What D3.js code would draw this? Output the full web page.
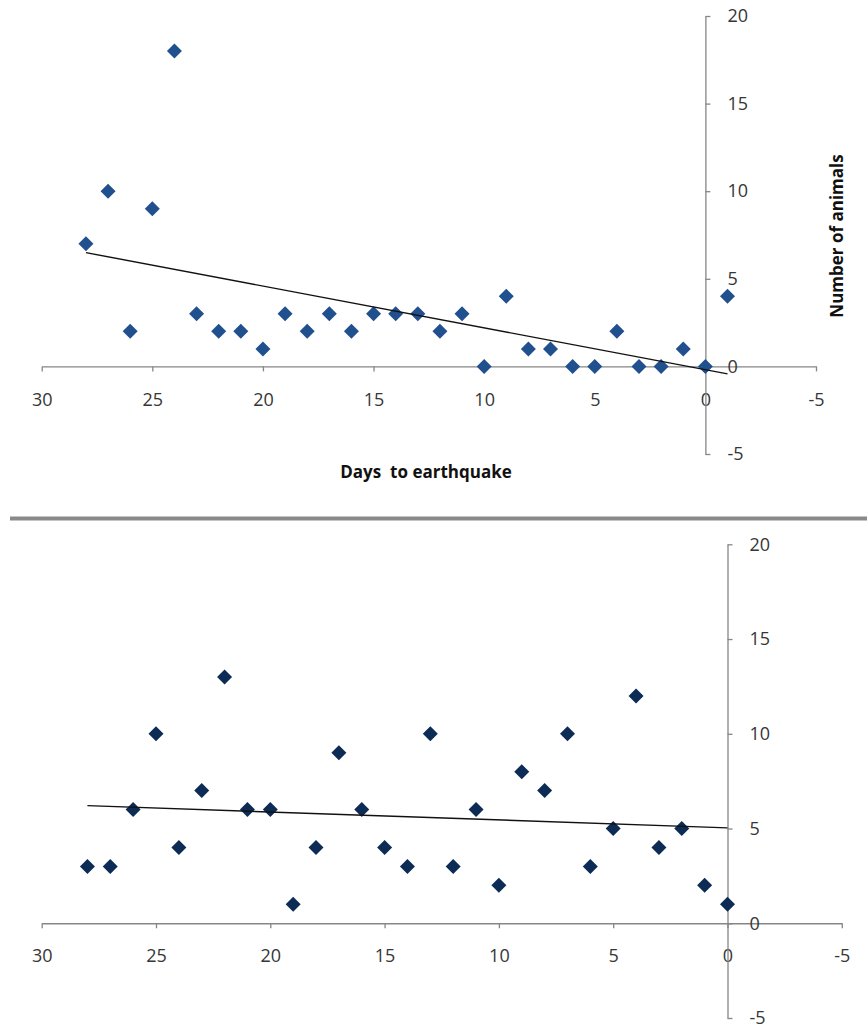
<!DOCTYPE html>
<html lang="en">
<head>
  <meta charset="utf-8" />
  <script src="https://d3js.org/d3.v7.min.js"></script>
  <style>
    body { margin: 0; background: #fff; }
    .tick text { font-family: "Open Sans", sans-serif; font-size: 18px; fill: #363636; }
    .axis path, .axis line { stroke: #868686; stroke-width: 1.3; }
    .title { font-family: "Open Sans", sans-serif; font-weight: bold; font-size: 17px; fill: #111; }
  </style>
</head>
<body>
  <script>
    // days before the quake and animal counts, upper panel
    var daysTop = [28, 27, 26, 25, 24, 23, 22, 21, 20, 19, 18, 17, 16, 15, 14, 13, 12, 11, 10, 9, 8, 7, 6, 5, 4, 3, 2, 1, 0, -1];
    var countsTop = [7, 10, 2, 9, 18, 3, 2, 2, 1, 3, 2, 3, 2, 3, 3, 3, 2, 3, 0, 4, 1, 1, 0, 0, 2, 0, 0, 1, 0, 4];

    // lower panel
    var daysBottom = [28, 27, 26, 25, 24, 23, 22, 21, 20, 19, 18, 17, 16, 15, 14, 13, 12, 11, 10, 9, 8, 7, 6, 5, 4, 3, 2, 1, 0];
    var countsBottom = [3, 3, 6, 10, 4, 7, 13, 6, 6, 1, 4, 9, 6, 4, 3, 10, 3, 6, 2, 8, 7, 10, 3, 5, 12, 4, 5, 2, 1];

    var xTicks = [30, 25, 20, 15, 10, 5, 0, -5];
    var yTicks = [20, 15, 10, 5, 0, -5];

    var width = 867, height = 1028;

    var svg = d3.select("body").append("svg")
      .attr("width", width)
      .attr("height", height);

    function fitLine(xs, ys) {
      var mx = d3.mean(xs), my = d3.mean(ys);
      var sxy = d3.sum(xs, function (x, i) { return (x - mx) * (ys[i] - my); });
      var sxx = d3.sum(xs, function (x) { return (x - mx) * (x - mx); });
      var b = sxy / sxx;
      return { slope: b, intercept: my - b * mx };
    }

    function diamond(r) {
      return "M0," + (-r) + "L" + r + ",0L0," + r + "L" + (-r) + ",0Z";
    }

    // plain hyphen for negatives, like the original
    var fmt = function (d) { return String(d); };

    function drawPanel(opt) {
      var g = svg.append("g");
      var x = d3.scaleLinear().domain([30, -5]).range(opt.xRange);
      var y = d3.scaleLinear().domain([-5, 20]).range(opt.yRange);

      g.append("g")
        .attr("class", "axis")
        .attr("transform", "translate(0," + y(0) + ")")
        .call(d3.axisBottom(x).tickValues(xTicks).tickFormat(fmt)
          .tickSize(5).tickSizeOuter(0).tickPadding(opt.xPad));

      g.append("g")
        .attr("class", "axis")
        .attr("transform", "translate(" + x(0) + ",0)")
        .call(d3.axisRight(y).tickValues(yTicks).tickFormat(fmt)
          .tickSize(5).tickSizeOuter(0).tickPadding(17));

      g.selectAll(".domain").attr("fill", "none");

      var pts = opt.days.map(function (d, i) { return { d: d, v: opt.counts[i] }; });

      g.selectAll("path.pt")
        .data(pts)
        .enter().append("path")
        .attr("class", "pt")
        .attr("d", diamond(7.5))
        .attr("fill", opt.color)
        .attr("transform", function (p) { return "translate(" + x(p.d) + "," + y(p.v) + ")"; });

      var fit = fitLine(opt.days, opt.counts);
      var ends = d3.extent(opt.days);
      g.append("line")
        .attr("x1", x(ends[1])).attr("y1", y(fit.intercept + fit.slope * ends[1]))
        .attr("x2", x(ends[0])).attr("y2", y(fit.intercept + fit.slope * ends[0]))
        .attr("stroke", "#111")
        .attr("stroke-width", 1.4);

      return { x: x, y: y };
    }

    drawPanel({
      days: daysTop, counts: countsTop, color: "#21508e",
      xRange: [41.7, 816], yRange: [454, 16], xPad: 22
    });

    drawPanel({
      days: daysBottom, counts: countsBottom, color: "#0c2b55",
      xRange: [41.7, 841.8], yRange: [1018, 544.3], xPad: 21
    });

    svg.append("text")
      .attr("class", "title")
      .attr("x", 426)
      .attr("y", 478)
      .attr("text-anchor", "middle")
      .style("white-space", "pre")
      .text("Days  to earthquake");

    svg.append("text")
      .attr("class", "title")
      .attr("text-anchor", "middle")
      .attr("transform", "translate(843,236) rotate(-90)")
      .text("Number of animals");

    // grey rule between the two charts
    svg.append("line")
      .attr("x1", 10).attr("x2", width)
      .attr("y1", 518.5).attr("y2", 518.5)
      .attr("stroke", "#8a8a8a")
      .attr("stroke-width", 4);
  </script>
</body>
</html>
